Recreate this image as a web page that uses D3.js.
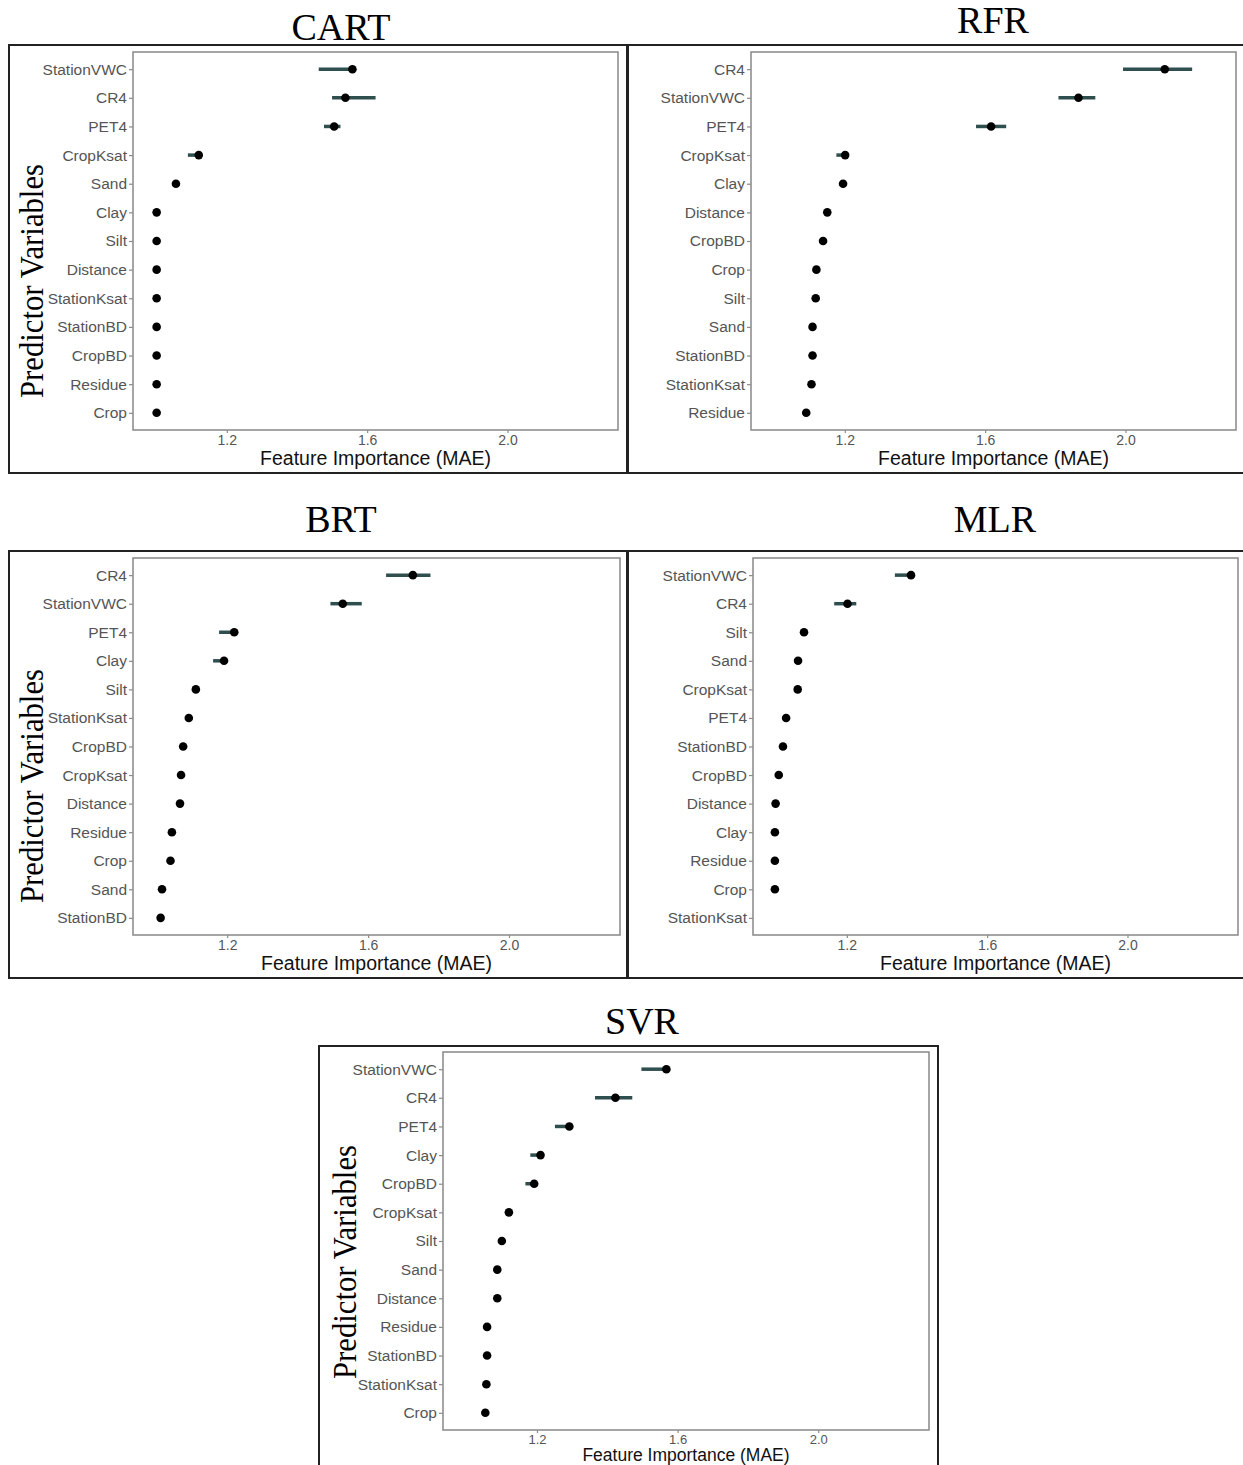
<!DOCTYPE html>
<html>
<head>
<meta charset="utf-8">
<script src="https://cdn.jsdelivr.net/npm/d3@7"></script>
<style>
  body { margin: 0; background: #fff; }
  svg { display: block; }
</style>
</head>
<body>
<svg id="fig" width="1243" height="1465"></svg>
<script>
// feature importance (MAE ratio) per model, top to bottom as plotted
const cartVars = ['StationVWC', 'CR4', 'PET4', 'CropKsat', 'Sand', 'Clay', 'Silt', 'Distance', 'StationKsat', 'StationBD', 'CropBD', 'Residue', 'Crop'];
const cartImp = [1.558, 1.538, 1.506, 1.120, 1.055, 1.0, 1.0, 1.0, 1.0, 1.0, 1.0, 1.0, 1.0];
const cartLo = [1.462, 1.500, 1.477, 1.089, 1.052, 1.0, 1.0, 1.0, 1.0, 1.0, 1.0, 1.0, 1.0];
const cartHi = [1.565, 1.624, 1.524, 1.126, 1.058, 1.0, 1.0, 1.0, 1.0, 1.0, 1.0, 1.0, 1.0];

const rfrVars = ['CR4', 'StationVWC', 'PET4', 'CropKsat', 'Clay', 'Distance', 'CropBD', 'Crop', 'Silt', 'Sand', 'StationBD', 'StationKsat', 'Residue'];
const rfrImp = [2.112, 1.866, 1.617, 1.201, 1.195, 1.150, 1.138, 1.119, 1.117, 1.108, 1.108, 1.105, 1.090];
const rfrLo = [1.993, 1.809, 1.574, 1.176, 1.185, 1.145, 1.133, 1.114, 1.113, 1.100, 1.104, 1.101, 1.086];
const rfrHi = [2.190, 1.914, 1.660, 1.210, 1.205, 1.155, 1.143, 1.124, 1.121, 1.116, 1.112, 1.109, 1.094];

const brtVars = ['CR4', 'StationVWC', 'PET4', 'Clay', 'Silt', 'StationKsat', 'CropBD', 'CropKsat', 'Distance', 'Residue', 'Crop', 'Sand', 'StationBD'];
const brtImp = [1.727, 1.528, 1.220, 1.191, 1.111, 1.091, 1.075, 1.069, 1.066, 1.043, 1.039, 1.015, 1.011];
const brtLo = [1.651, 1.493, 1.177, 1.160, 1.106, 1.083, 1.069, 1.064, 1.061, 1.037, 1.033, 1.011, 1.007];
const brtHi = [1.777, 1.582, 1.228, 1.198, 1.116, 1.097, 1.081, 1.075, 1.071, 1.049, 1.045, 1.019, 1.015];

const mlrVars = ['StationVWC', 'CR4', 'Silt', 'Sand', 'CropKsat', 'PET4', 'StationBD', 'CropBD', 'Distance', 'Clay', 'Residue', 'Crop', 'StationKsat'];
const mlrImp = [1.383, 1.202, 1.078, 1.061, 1.060, 1.027, 1.018, 1.006, 0.997, 0.995, 0.995, 0.995, null];
const mlrLo = [1.337, 1.164, 1.073, 1.056, 1.055, 1.020, 1.014, 1.002, 0.995, 0.993, 0.993, 0.993, null];
const mlrHi = [1.390, 1.227, 1.084, 1.066, 1.066, 1.032, 1.022, 1.010, 1.000, 0.998, 0.998, 0.998, null];

const svrVars = ['StationVWC', 'CR4', 'PET4', 'Clay', 'CropBD', 'CropKsat', 'Silt', 'Sand', 'Distance', 'Residue', 'StationBD', 'StationKsat', 'Crop'];
const svrImp = [1.568, 1.423, 1.292, 1.210, 1.192, 1.120, 1.100, 1.087, 1.087, 1.058, 1.058, 1.056, 1.053];
const svrLo = [1.497, 1.365, 1.251, 1.181, 1.167, 1.113, 1.095, 1.082, 1.080, 1.052, 1.053, 1.051, 1.046];
const svrHi = [1.575, 1.471, 1.300, 1.218, 1.200, 1.127, 1.106, 1.093, 1.094, 1.064, 1.063, 1.061, 1.059];

const xTicks = [1.2, 1.6, 2.0];
const xDomain = [0.9326, 2.315];

// frame = outer box, plot = panel area, title position, ylab = rotated label centre (or null)
const panels = [
  { name: 'CART', vars: cartVars, imp: cartImp, lo: cartLo, hi: cartHi,
    frame: [9, 45, 627, 473], plot: [133, 52, 618, 430], title: [341, 40], ylab: [31, 281],
    xlabY: 35, xlabSize: 19.5, xtickSize: 14 },
  { name: 'RFR', vars: rfrVars, imp: rfrImp, lo: rfrLo, hi: rfrHi,
    frame: [628, 45, 1245, 473], plot: [751, 52, 1236, 430], title: [993, 33], ylab: null,
    xlabY: 35, xlabSize: 19.5, xtickSize: 14 },
  { name: 'BRT', vars: brtVars, imp: brtImp, lo: brtLo, hi: brtHi,
    frame: [9, 551, 627, 978], plot: [133, 558, 620, 935], title: [341, 532], ylab: [31, 786],
    xlabY: 35, xlabSize: 19.5, xtickSize: 14 },
  { name: 'MLR', vars: mlrVars, imp: mlrImp, lo: mlrLo, hi: mlrHi,
    frame: [628, 551, 1245, 978], plot: [753, 558, 1238, 935], title: [995, 532], ylab: null,
    xlabY: 35, xlabSize: 19.5, xtickSize: 14 },
  { name: 'SVR', vars: svrVars, imp: svrImp, lo: svrLo, hi: svrHi,
    frame: [319, 1046, 938, 1480], plot: [443, 1052, 929, 1430], title: [642, 1034], ylab: [344, 1262],
    xlabY: 31, xlabSize: 17.5, xtickSize: 13 },
];

const svg = d3.select('#fig');
svg.append('rect').attr('width', 1243).attr('height', 1465).attr('fill', '#fff');

panels.forEach((p) => {
  const [fx0, fy0, fx1, fy1] = p.frame;
  const [px0, py0, px1, py1] = p.plot;
  const g = svg.append('g').attr('class', 'panel');

  g.append('rect')
    .attr('x', fx0).attr('y', fy0)
    .attr('width', fx1 - fx0).attr('height', fy1 - fy0)
    .attr('fill', 'none').attr('stroke', '#222').attr('stroke-width', 2);

  g.append('text')
    .attr('x', p.title[0]).attr('y', p.title[1])
    .attr('text-anchor', 'middle')
    .style('font-family', '"Liberation Serif", "Times New Roman", serif')
    .style('font-size', '38px')
    .text(p.name);

  if (p.ylab) {
    g.append('text')
      .attr('transform', `translate(${p.ylab[0] + 12},${p.ylab[1]})rotate(-90)`)
      .attr('text-anchor', 'middle')
      .attr('textLength', 234).attr('lengthAdjust', 'spacingAndGlyphs')
      .style('font-family', '"Liberation Serif", "Times New Roman", serif')
      .style('font-size', '34px')
      .text('Predictor Variables');
  }

  const x = d3.scaleLinear().domain(xDomain).range([px0, px1]);
  const y = d3.scalePoint().domain(p.vars).range([py0, py1]).padding(0.6);

  const rows = p.vars.map((v, i) => ({ v, imp: p.imp[i], lo: p.lo[i], hi: p.hi[i] }))
    .filter(d => d.imp != null);

  const yAxis = g.append('g')
    .attr('transform', `translate(${px0},0)`)
    .call(d3.axisLeft(y).tickSize(4).tickPadding(2));
  const xAxis = g.append('g')
    .attr('transform', `translate(0,${py1})`)
    .call(d3.axisBottom(x).tickValues(xTicks).tickFormat(d3.format('.1f')).tickSize(3).tickPadding(2));

  [yAxis, xAxis].forEach((a) => {
    a.select('.domain').remove();
    a.selectAll('.tick line').attr('stroke', '#8a8a8a').attr('stroke-width', 1.2);
    a.selectAll('.tick text')
      .attr('fill', '#555')
      .style('font-family', '"Liberation Sans", Arial, sans-serif');
  });
  yAxis.selectAll('.tick text').style('font-size', '15.5px');
  xAxis.selectAll('.tick text').style('font-size', p.xtickSize + 'px');

  g.append('rect')
    .attr('x', px0).attr('y', py0)
    .attr('width', px1 - px0).attr('height', py1 - py0)
    .attr('fill', 'none').attr('stroke', '#8f8f8f').attr('stroke-width', 1.6);

  g.append('text')
    .attr('x', (px0 + px1) / 2).attr('y', py1 + p.xlabY)
    .attr('text-anchor', 'middle')
    .style('font-family', '"Liberation Sans", Arial, sans-serif')
    .style('font-size', p.xlabSize + 'px')
    .attr('fill', '#111')
    .text('Feature Importance (MAE)');

  g.append('g').selectAll('line')
    .data(rows).enter()
    .append('line')
    .attr('x1', d => x(d.lo)).attr('x2', d => x(d.hi))
    .attr('y1', d => y(d.v)).attr('y2', d => y(d.v))
    .attr('stroke', '#2f4f4f').attr('stroke-width', 3.5);

  g.append('g').selectAll('circle')
    .data(rows).enter()
    .append('circle')
    .attr('cx', d => x(d.imp)).attr('cy', d => y(d.v))
    .attr('r', 4.3)
    .attr('fill', '#000');
});
</script>
</body>
</html>
